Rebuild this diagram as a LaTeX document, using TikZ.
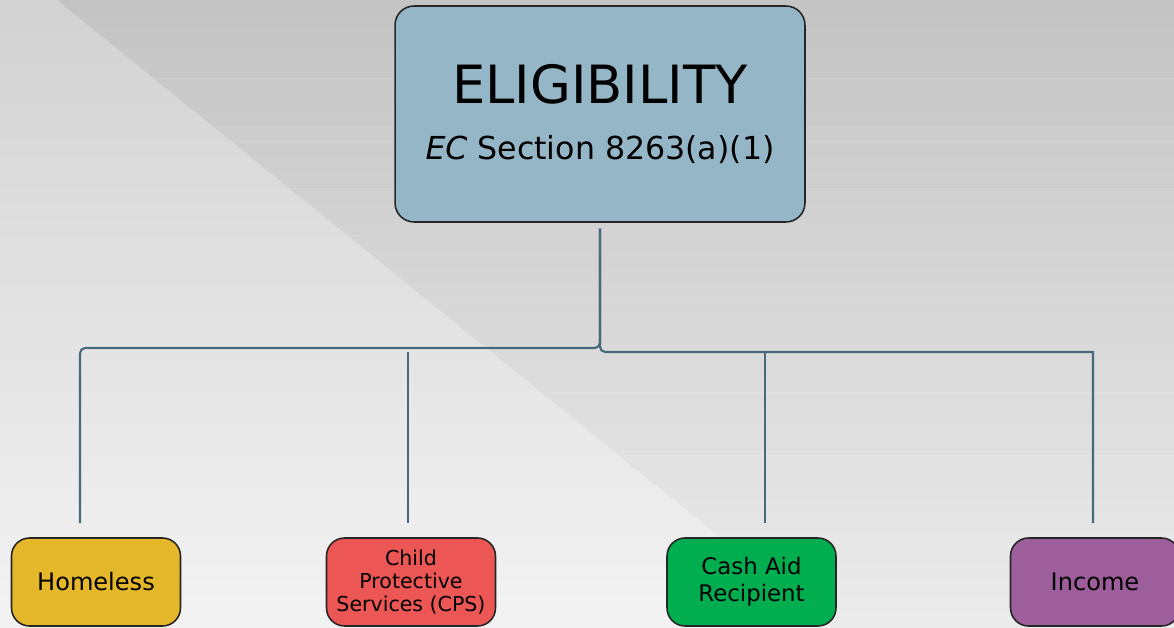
\documentclass[tikz,border=0pt]{standalone}
\usepackage{fontspec}
\setmainfont{DejaVu Sans}
\usetikzlibrary{positioning}

\definecolor{bgdark}{HTML}{C4C4C4}
\definecolor{bglight}{HTML}{ECECEC}
\definecolor{bgsoft}{HTML}{D2D2D2}
\definecolor{bgpale}{HTML}{F3F3F3}
\definecolor{eligblue}{HTML}{95B6C7}
\definecolor{homeyellow}{HTML}{E5B72A}
\definecolor{cpsred}{HTML}{EC5654}
\definecolor{cashgreen}{HTML}{00AD4F}
\definecolor{incomepurple}{HTML}{9E5D9B}
\definecolor{linkblue}{HTML}{46697C}

\begin{document}
\begin{tikzpicture}[x=0.02cm,y=-0.02cm]
	\tikzstyle{topic}=[rectangle, rounded corners=0.38cm, draw=black!85, line width=0.9pt, fill=eligblue, text=black, align=center, minimum width=8.2cm, minimum height=4.32cm]
	\tikzstyle{branch}=[rectangle, rounded corners=0.36cm, draw=black!85, line width=0.9pt, text=black, align=center, minimum width=3.38cm, minimum height=1.76cm, inner sep=1pt]
	\tikzstyle{link}=[draw=linkblue, line width=1.2pt]

	\useasboundingbox (0,0) rectangle (1174,628);

	% backdrop: horizontal bands, pale on the left of the diagonal, darker on the right
	\foreach \i in {0,...,39}{
		\pgfmathsetmacro{\ya}{\i*15.7}
		\pgfmathsetmacro{\yb}{\ya+16.7}
		\pgfmathsetmacro{\xa}{57+1.234*\ya}
		\pgfmathsetmacro{\xb}{57+1.234*\yb}
		\pgfmathtruncatemacro{\mix}{(\i+0.5)*2.5}
		\colorlet{panelL}{bgpale!\mix!bgsoft}
		\colorlet{panelR}{bglight!\mix!bgdark}
		\fill[panelL] (0,\ya) rectangle (1174,\yb);
		\fill[panelR] (\xa,\ya) -- (1174,\ya) -- (1174,\yb) -- (\xb,\yb) -- cycle;
	}

	\node[topic, font=\fontsize{18}{32}\selectfont] (elig) at (600,114) {{\fontsize{30}{32}\selectfont ELIGIBILITY}\\\textit{EC} Section 8263(a)(1)};

	\node[branch, fill=homeyellow, font=\fontsize{13.7}{16}\selectfont]   (homeless) at (96,582)    {Homeless};
	\node[branch, fill=cpsred, font=\fontsize{11.7}{13.3}\selectfont]     (cps)      at (411,582)   {Child\\Protective\\Services (CPS)};
	\node[branch, fill=cashgreen, font=\fontsize{13}{15.3}\selectfont]    (cash)     at (751.5,582) {Cash Aid\\Recipient};
	\node[branch, fill=incomepurple, font=\fontsize{13.7}{16}\selectfont] (income)   at (1095,582)  {Income};

	% bus lines
	\coordinate (stem) at ([yshift=-3.4pt]elig.south);
	\coordinate (busL) at (600,348);
	\coordinate (busR) at (600,352);
	\coordinate (homeless-in) at (80,523);
	\coordinate (cps-in) at (408,523);
	\coordinate (cash-in) at (765,523);
	\coordinate (income-in) at (1093,523);

	\draw[link, rounded corners=3pt] (stem) |- (homeless-in |- busL) -- (homeless-in);
	\draw[link] (stem) [rounded corners=3pt] |- (cash-in |- busR) [sharp corners] -| (income-in);
	\draw[link] (cps-in |- busR) -- (cps-in);
	\draw[link] (cash-in |- busR) -- (cash-in);

\end{tikzpicture}
\end{document}
